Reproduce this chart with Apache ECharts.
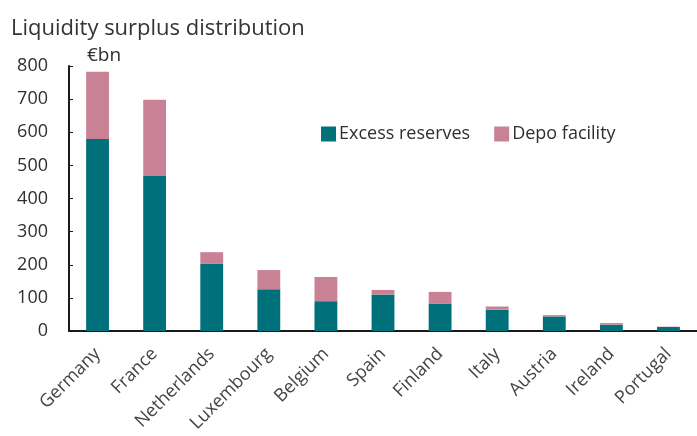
<!DOCTYPE html>
<html>
<head>
<meta charset="utf-8">
<script src="https://cdn.jsdelivr.net/npm/echarts@6/dist/echarts.min.js"></script>
<style>
  html, body { margin: 0; padding: 0; background: #fff; }
  #main { width: 697px; height: 436px; }
</style>
</head>
<body>
<div id="main"></div>
<script>
// countries, sorted by total surplus
var countries = ['Germany', 'France', 'Netherlands', 'Luxembourg', 'Belgium', 'Spain',
  'Finland', 'Italy', 'Austria', 'Ireland', 'Portugal']
// €bn
var excessReserves = [580, 468, 204, 126, 90, 110, 83, 64, 44, 19, 12]
var depoFacility = [203, 230, 34, 58, 73, 14, 35, 10, 4, 5, 1]
var yTicks = [0, 100, 200, 300, 400, 500, 600, 700, 800]

var myChart = echarts.init(document.getElementById('main'))
var font = 'Open Sans'
var textColor = '#2e2e33'

var option = {
  backgroundColor: '#ffffff',
  animation: false,
  title: {
    text: 'Liquidity surplus distribution',
    left: 6,
    top: 13,
    textStyle: { color: '#333338', fontSize: 22, fontWeight: 'normal', fontFamily: font }
  },
  legend: {
    data: ['Excess reserves', 'Depo facility'],
    left: 316,
    top: 120,
    itemWidth: 15,
    itemHeight: 15,
    itemGap: 24,
    icon: 'rect',
    textStyle: { color: textColor, fontSize: 18, fontFamily: font, padding: [0, 0, 0, -2] }
  },
  graphic: [{
    type: 'text',
    left: 87,
    top: 46,
    style: { text: '€bn', fill: textColor, fontSize: 19, fontFamily: font }
  }],
  grid: { left: 69, right: 0, top: 66, bottom: 105 },
  xAxis: {
    type: 'category',
    data: countries,
    axisLine: { lineStyle: { color: '#1a1a1a', width: 2 } },
    axisTick: { inside: true, length: 5, lineStyle: { color: '#1a1a1a' } },
    axisLabel: {
      rotate: 45,
      margin: 20,
      color: '#444444',
      fontSize: 18,
      fontFamily: font
    }
  },
  yAxis: {
    type: 'value',
    min: yTicks[0],
    max: yTicks[yTicks.length - 1],
    interval: 100,
    axisLine: { show: true, lineStyle: { color: '#1a1a1a', width: 2 } },
    axisTick: { show: true, inside: true, length: 4, lineStyle: { color: '#1a1a1a' } },
    splitLine: { show: false },
    axisLabel: { margin: 21, color: textColor, fontSize: 18, fontFamily: font }
  },
  series: [
    {
      name: 'Excess reserves',
      type: 'bar',
      stack: 'total',
      barWidth: '40%',
      data: excessReserves,
      itemStyle: { color: '#00707a' }
    },
    {
      name: 'Depo facility',
      type: 'bar',
      stack: 'total',
      barWidth: '40%',
      data: depoFacility,
      itemStyle: { color: '#c98295' }
    }
  ]
}
myChart.setOption(option)
</script>
</body>
</html>
